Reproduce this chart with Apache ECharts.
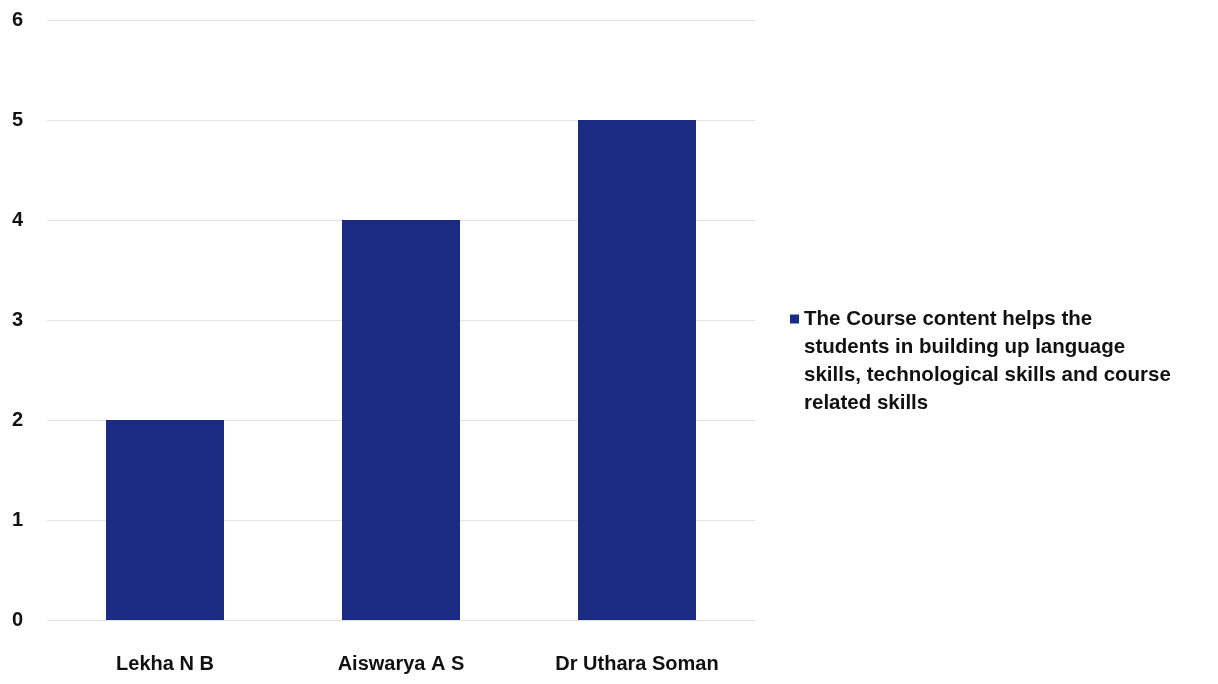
<!DOCTYPE html>
<html>
<head>
<meta charset="utf-8">
<script src="https://cdn.jsdelivr.net/npm/echarts@6/dist/echarts.min.js"></script>
<style>
	html, body { margin: 0; padding: 0; background: #fff; }
	#chart { width: 1218px; height: 684px; }
</style>
</head>
<body>
<div id="chart"></div>
<script>
const categories = ['Lekha N B', 'Aiswarya A S', 'Dr Uthara Soman'];
const seriesName = 'The Course content helps the students in building up language skills, technological skills and course related skills';
const values = [2, 4, 5];
const legendLines = ['The Course content helps the', 'students in building up language', 'skills, technological skills and course', 'related skills'];

const chart = echarts.init(document.getElementById('chart'), null, { renderer: 'canvas' });

chart.setOption({
	animation: false,
	textStyle: { fontFamily: '"Liberation Sans", Arial, sans-serif' },
	grid: { left: 47, right: 463, top: 20, bottom: 64 },
	xAxis: {
		type: 'category',
		data: categories,
		axisLine: { show: false },
		axisTick: { show: false },
		axisLabel: { color: '#111', fontSize: 20, fontWeight: 'bold', margin: 34 },
	},
	yAxis: {
		type: 'value',
		min: 0,
		max: 6,
		interval: 1,
		axisLabel: { color: '#111', fontSize: 20, fontWeight: 'bold', margin: 24 },
		splitLine: { lineStyle: { color: '#e2e2e2', width: 1 } },
	},
	legend: {
		left: 790,
		top: 221,
		padding: 0,
		icon: 'rect',
		itemWidth: 9,
		itemHeight: 9,
		formatter: () => '\n\n\n' + legendLines.join('\n'),
		textStyle: { color: '#111', fontSize: 20.5, fontWeight: 'bold', lineHeight: 28 },
	},
	series: [{
		name: seriesName,
		type: 'bar',
		data: values,
		barWidth: '50%',
		itemStyle: { color: '#1b2a82' },
	}],
});
</script>
</body>
</html>
